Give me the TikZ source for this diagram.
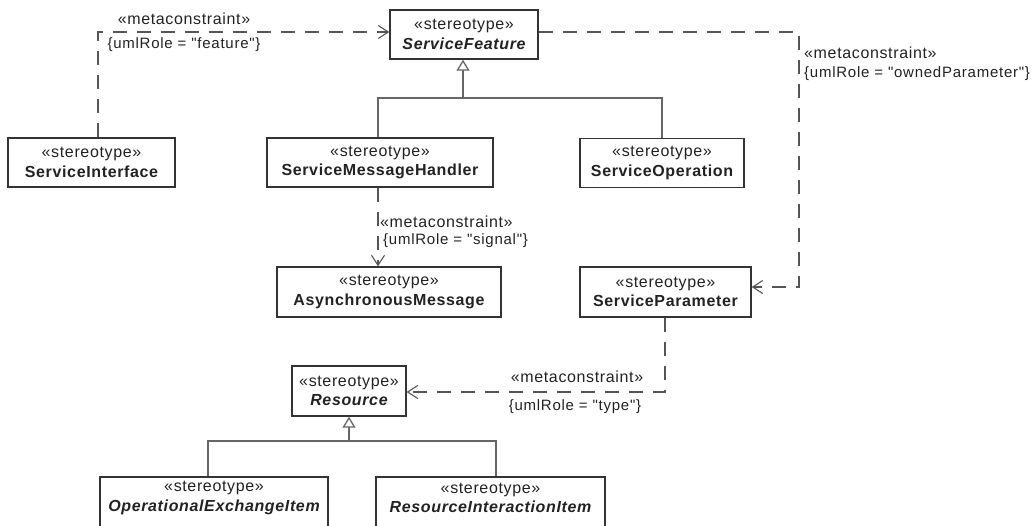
\documentclass[tikz,border=0pt]{standalone}
\usepackage{fontspec}
\setmainfont{Liberation Sans}
\newfontfamily\bxfont{Liberation Sans}[LetterSpace=4]
\newfontfamily\cnfont{Liberation Sans}[LetterSpace=5]
\usetikzlibrary{arrows.meta}
\definecolor{boxline}{HTML}{333333}
\definecolor{genline}{HTML}{666666}
\definecolor{depline}{HTML}{555555}
\definecolor{txt}{HTML}{222222}
\tikzset{
  box/.style={draw=boxline, line width=1.4pt, fill=white, inner sep=0pt, align=center,
    text=txt, font=\fontsize{16}{19.5}\bxfont},
  boxtext/.style={inner sep=0pt, align=center, text=txt, font=\fontsize{16}{19.5}\bxfont},
  gen/.style={draw=genline, line width=1.3pt, -{Triangle[open, length=11pt, width=13pt, fill=white]}},
  genl/.style={draw=genline, line width=1.3pt},
  dep/.style={draw=depline, line width=1.1pt, dash pattern=on 14pt off 10pt,
    -{Straight Barb[length=10pt, width=13pt, line width=1.1pt]}},
  lbla/.style={inner sep=0pt, text=txt, font=\fontsize{16}{19}\bxfont},
  lblb/.style={inner sep=0pt, text=txt, font=\fontsize{15}{18}\cnfont},
}
\begin{document}
\begin{tikzpicture}[x=1pt, y=-1pt]
\path[use as bounding box] (0,0) rectangle (1033,525);

% classes
\node[box, minimum width=148pt, minimum height=49pt] (SF) at (464,34.5)
  {«stereotype»\\\bfseries\itshape ServiceFeature};
\node[box, minimum width=167pt, minimum height=49pt] (SI) at (91.5,162.5)
  {«stereotype»\\\bfseries ServiceInterface};
\node[box, minimum width=226pt, minimum height=49pt] (SMH) at (380,162.5)
  {«stereotype»\\\bfseries ServiceMessageHandler};
\node[box, minimum width=164pt, minimum height=49pt] (SO) at (662,163)
  {«stereotype»\\\bfseries ServiceOperation};
\node[box, minimum width=224pt, minimum height=50pt] (AM) at (389,292)
  {«stereotype»\\\bfseries AsynchronousMessage};
\node[box, minimum width=171pt, minimum height=50pt] (SP) at (665.5,292)
  {«stereotype»\\\bfseries ServiceParameter};
\node[box, minimum width=114pt, minimum height=50pt] (Res) at (349,391)
  {«stereotype»\\\bfseries\itshape Resource};
\node[box, minimum width=228pt, minimum height=52pt] (OEI) at (214,503) {};
\node[boxtext] (OEIt) at (214,498) {«stereotype»\\\bfseries\itshape OperationalExchangeItem};
\node[box, minimum width=229pt, minimum height=52pt] (RII) at (490.5,503) {};
\node[boxtext] (RIIt) at (490.5,498) {«stereotype»\\\bfseries\itshape ResourceInteractionItem};

% corner coordinates
\coordinate (k3) at (98,32);
\coordinate (k1) at (799,32);
\coordinate (k2) at (799,287);
\coordinate (k4) at (378,0);
\coordinate (k5) at (665,392);
\coordinate (h1) at (463,98);
\coordinate (h2) at (662,98);
\coordinate (h3) at (349,441);
\coordinate (h4) at (208,441);
\coordinate (h5) at (496,441);

% generalizations
\draw[gen] (h1) -- (SF.south -| h1);
\draw[genl] (SMH.north -| k4) |- (h2) -- (SO.north -| h2);
\draw[gen] (h3) -- (Res.south -| h3);
\draw[genl] (OEI.north -| h4) -- (h4) -- (h5) -- (RII.north -| h5);

% metaconstraints
\draw[dep] (SI.north -| k3) -- (k3) -- (SF.west |- k3);
\draw[dep] (SF.east |- k1) -- (k1) -- (k2) -- (SP.east |- k2);
\draw[dep] (SMH.south -| k4) -- (AM.north -| k4);
\draw[dep] (SP.south -| k5) -- (k5) -- (Res.east |- k5);

% labels
\node[lbla] (l1a) at (184,19) {«metaconstraint»};
\node[lblb] (l1b) at (184,45) {\{umlRole = "feature"\}};
\node[lbla, anchor=west] (l2a) at (804,53) {«metaconstraint»};
\node[lblb, anchor=west] (l2b) at (804,74) {\{umlRole = "ownedParameter"\}};
\node[lbla, anchor=west] (l3a) at (380,222) {«metaconstraint»};
\node[lblb, anchor=west] (l3b) at (383,241) {\{umlRole = "signal"\}};
\node[lbla] (l4a) at (577,377) {«metaconstraint»};
\node[lblb] (l4b) at (575,407) {\{umlRole = "type"\}};
\end{tikzpicture}
\end{document}
